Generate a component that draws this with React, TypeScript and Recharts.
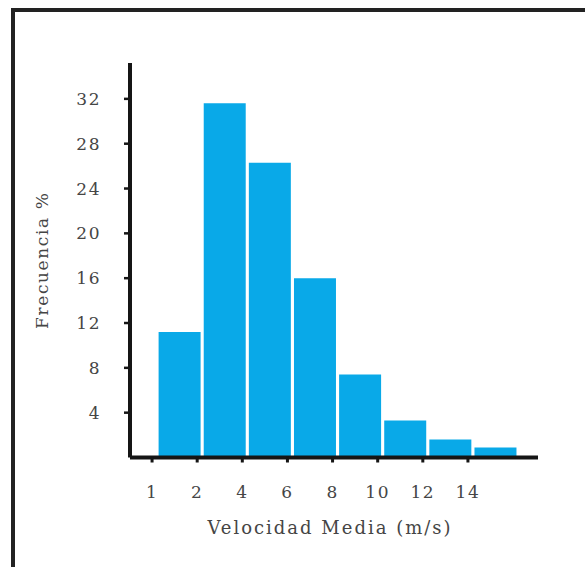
import React from 'react';
import { BarChart, Bar, XAxis, YAxis, Label } from 'recharts';

const binLabels = ['1', '2', '4', '6', '8', '10', '12', '14'];
const frecuencia = [11.2, 31.6, 26.3, 16.0, 7.4, 3.3, 1.6, 0.9];
const yTicks = [4, 8, 12, 16, 20, 24, 28, 32];

const FONT = '"DejaVu Serif", serif';
const TEXT = '#454545';
const AXIS = '#151515';

const data = binLabels.map((label, i) => ({ label, value: frecuencia[i] }));

// ticks sit on the left edge of each bin, not its centre
const BinTick = (props: any) => {
  const { x, y, payload } = props;
  const tx = x - 27.5;
  return (
    <g>
      <line x1={tx} y1={y} x2={tx} y2={y + 5} stroke={AXIS} strokeWidth={3} />
      <text x={tx} y={y + 40} textAnchor="middle" fill={TEXT} fontFamily={FONT} fontSize={17} letterSpacing={1.5}>
        {payload.value}
      </text>
    </g>
  );
};

const App: React.FC = () => {
  return (
    <div style={{ position: 'absolute', left: 0, top: 0, width: 585, height: 567, background: '#fff' }}>
      <div
        style={{
          position: 'absolute',
          left: 11,
          top: 8,
          right: 0,
          bottom: 0,
          borderTop: '4px solid #222',
          borderLeft: '4px solid #222',
        }}
      />
      <div style={{ position: 'absolute', left: 0, top: 0 }}>
        <BarChart
          width={585}
          height={567}
          data={data}
          margin={{ top: 63, right: 47, bottom: 39.5, left: 30 }}
          barCategoryGap={1.6}
        >
          <XAxis
            dataKey="label"
            height={70}
            padding={{ left: 27, right: 20 }}
            axisLine={{ stroke: AXIS, strokeWidth: 4 }}
            tickLine={false}
            tickSize={0}
            tickMargin={0}
            tick={<BinTick />}
            interval={0}
          >
            <Label
              content={({ viewBox }: any) => (
                <text
                  x={viewBox.x + viewBox.width / 2 - 4}
                  y={viewBox.y + 76}
                  textAnchor="middle"
                  fill={TEXT}
                  fontFamily={FONT}
                  fontSize={18}
                  letterSpacing={2}
                >
                  Velocidad Media (m/s)
                </text>
              )}
            />
          </XAxis>
          <YAxis
            width={100}
            domain={[0, 35.2]}
            ticks={yTicks}
            allowDataOverflow
            axisLine={{ stroke: AXIS, strokeWidth: 4 }}
            tickLine={{ stroke: AXIS, strokeWidth: 2.5 }}
            tickSize={6}
            tickMargin={23}
            tick={{ fill: TEXT, fontFamily: FONT, fontSize: 17, letterSpacing: 1.5 }}
          >
            <Label
              content={({ viewBox }: any) => {
                const cx = viewBox.x + 12;
                const cy = viewBox.y + viewBox.height / 2;
                return (
                  <text
                    x={cx}
                    y={cy}
                    transform={`rotate(-90 ${cx} ${cy})`}
                    textAnchor="middle"
                    dominantBaseline="central"
                    fill={TEXT}
                    fontFamily={FONT}
                    fontSize={17}
                    letterSpacing={1.6}
                  >
                    Frecuencia %
                  </text>
                );
              }}
            />
          </YAxis>
          <Bar dataKey="value" fill="#09a9e8" isAnimationActive={false} />
        </BarChart>
      </div>
    </div>
  );
};

export default App;
